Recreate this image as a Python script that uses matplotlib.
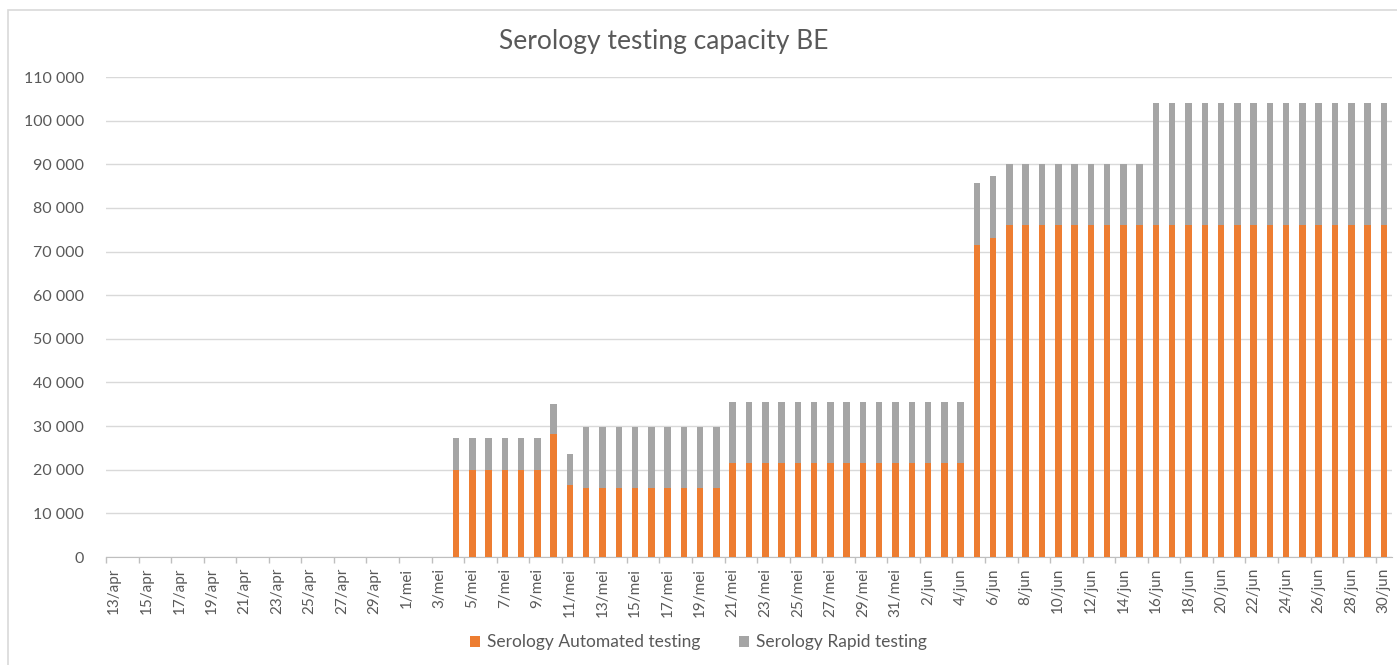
import numpy as np
import pandas as pd
import matplotlib
matplotlib.use("Agg")
import matplotlib.pyplot as plt
from matplotlib.patches import Rectangle

plt.rcParams['font.family'] = ['Lato', 'DejaVu Sans']

# categories: one per day, 13 April to 30 June
dates = pd.date_range("2020-04-13", "2020-06-30", freq="D")
month_names = {4: "apr", 5: "mei", 6: "jun"}
day_labels = [f"{d.day}/{month_names[d.month]}" for d in dates]

# Serology Automated testing (per day)
automated = [
    # 13/apr - 30/apr
    0, 0, 0, 0, 0, 0, 0, 0, 0, 0, 0, 0, 0, 0, 0, 0, 0, 0,
    # 1/mei - 31/mei
    0, 0, 0, 20000, 20000, 20000, 20000, 20000, 20000, 28100, 16600,
    15700, 15700, 15700, 15700, 15700, 15700, 15700, 15700, 15700,
    21500, 21500, 21500, 21500, 21500, 21500, 21500, 21500, 21500, 21500, 21500,
    # 1/jun - 30/jun
    21500, 21500, 21500, 21500, 71600, 73000,
    76000, 76000, 76000, 76000, 76000, 76000, 76000, 76000, 76000,
    76000, 76000, 76000, 76000, 76000, 76000, 76000, 76000, 76000, 76000,
    76000, 76000, 76000, 76000, 76000,
]

# Serology Rapid testing (per day)
rapid = [
    # 13/apr - 30/apr
    0, 0, 0, 0, 0, 0, 0, 0, 0, 0, 0, 0, 0, 0, 0, 0, 0, 0,
    # 1/mei - 31/mei
    0, 0, 0, 7200, 7200, 7200, 7200, 7200, 7200, 6900, 6900,
    14000, 14000, 14000, 14000, 14000, 14000, 14000, 14000, 14000,
    14100, 14100, 14100, 14100, 14100, 14100, 14100, 14100, 14100, 14100, 14100,
    # 1/jun - 30/jun
    14100, 14100, 14100, 14100, 14100, 14200,
    14100, 14100, 14100, 14100, 14100, 14100, 14100, 14100, 14100,
    28000, 28000, 28000, 28000, 28000, 28000, 28000, 28000, 28000, 28000,
    28000, 28000, 28000, 28000, 28000,
]

orange = "#ED7D31"
grey = "#A5A5A5"
text_col = "#595959"
grid_col = "#D9D9D9"

fig = plt.figure(figsize=(13.97, 6.65), dpi=100)
ax = fig.add_axes([0.0759, 0.1624, 0.9205, 0.7218])

# chart area border
fig.patches.append(Rectangle((8 / 1397, -0.05), 1.1, 1 - 10 / 665 + 0.05,
                             transform=fig.transFigure, fill=False,
                             edgecolor=grid_col, linewidth=1.2))

x = np.arange(len(day_labels))
ax.bar(x, automated, width=0.4, color=orange, label="Serology Automated testing", zorder=3)
ax.bar(x, rapid, width=0.4, bottom=automated, color=grey, label="Serology Rapid testing", zorder=3)

ax.set_xlim(-0.5, len(day_labels) - 0.5)
ax.set_ylim(0, 110000)
ax.set_yticks(np.arange(0, 110001, 10000))
ax.set_yticklabels([f"{v:,}".replace(",", " ") for v in range(0, 110001, 10000)],
                   fontsize=11.5, color=text_col)
ax.yaxis.grid(True, color=grid_col, linewidth=1, zorder=0)
ax.tick_params(axis="y", length=0, pad=16)

ax.set_xticks(x[::2])
ax.set_xticklabels(day_labels[::2], rotation=90, fontsize=11, color=text_col)
ax.set_xticks(np.arange(-0.5, len(day_labels), 2), minor=True)
ax.tick_params(axis="x", which="major", length=0, pad=8)
ax.tick_params(axis="x", which="minor", length=4, color="#BFBFBF", width=1)

for s in ["top", "right", "left"]:
    ax.spines[s].set_visible(False)
ax.spines["bottom"].set_color("#BFBFBF")

fig.text(0.475, 0.937, "Serology testing capacity BE", ha="center", va="center",
         fontsize=19, color=text_col)

fig.legend(loc="center", bbox_to_anchor=(0.5, 0.034), ncol=2, frameon=False,
           fontsize=12.5, labelcolor=text_col, handlelength=0.6, handleheight=0.6,
           columnspacing=2.2, handletextpad=0.4)

fig.savefig("out.png", dpi=100)
